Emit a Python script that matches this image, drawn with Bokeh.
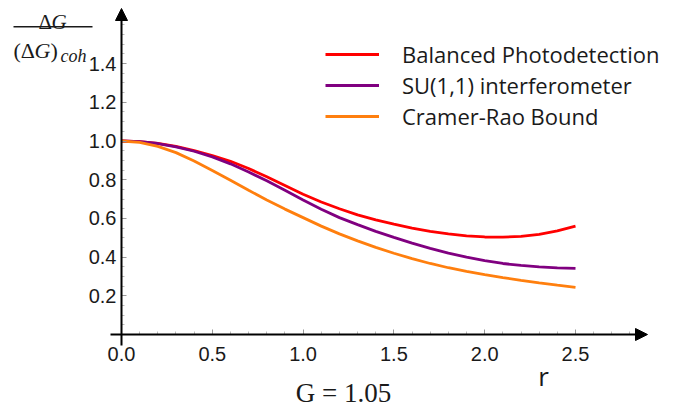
from bokeh.plotting import figure
from bokeh.models import (Range1d, FixedTicker, Legend, LegendItem, Label, Arrow,
                          NormalHead, BoxAnnotation)
from bokeh.embed import file_html
from bokeh.resources import INLINE

# ---------------- data ----------------
r = [0.0, 0.1, 0.2, 0.3, 0.4, 0.5, 0.6, 0.7, 0.8, 0.9, 1.0, 1.1, 1.2, 1.3,
     1.4, 1.5, 1.6, 1.7, 1.8, 1.9, 2.0, 2.1, 2.2, 2.3, 2.4, 2.5]
balanced = [1.000, 0.997, 0.988, 0.972, 0.950, 0.925, 0.895, 0.858, 0.815, 0.770,
            0.725, 0.685, 0.650, 0.618, 0.592, 0.570, 0.550, 0.533, 0.520, 0.510,
            0.504, 0.503, 0.507, 0.517, 0.535, 0.560]
su11 = [1.000, 0.997, 0.987, 0.970, 0.947, 0.918, 0.882, 0.840, 0.794, 0.745,
        0.695, 0.647, 0.604, 0.568, 0.533, 0.502, 0.472, 0.445, 0.421, 0.400,
        0.382, 0.367, 0.357, 0.349, 0.344, 0.342]
cramer_rao = [1.000, 0.993, 0.972, 0.940, 0.897, 0.848, 0.797, 0.745, 0.695, 0.648,
              0.604, 0.560, 0.520, 0.484, 0.450, 0.420, 0.392, 0.367, 0.345, 0.326,
              0.309, 0.294, 0.280, 0.267, 0.255, 0.244]
series_names = ["Balanced Photodetection", "SU(1,1) interferometer", "Cramer-Rao Bound"]
x_ticks = [0.0, 0.5, 1.0, 1.5, 2.0, 2.5]
x_minor = [0.1, 0.2, 0.3, 0.4, 0.6, 0.7, 0.8, 0.9, 1.1, 1.2, 1.3, 1.4, 1.6, 1.7,
           1.8, 1.9, 2.1, 2.2, 2.3, 2.4, 2.6, 2.7, 2.8]
y_ticks = [0.2, 0.4, 0.6, 0.8, 1.0, 1.2, 1.4]
y_minor = [0.05, 0.1, 0.15, 0.25, 0.3, 0.35, 0.45, 0.5, 0.55, 0.65, 0.7, 0.75,
           0.85, 0.9, 0.95, 1.05, 1.1, 1.15, 1.25, 1.3, 1.35, 1.45, 1.5, 1.55, 1.6]
g_text = "G = 1.05"

# ---------------- layout ----------------
W, H = 684, 410
SX, SY = 181.6, 193.5          # px per data unit
OX, OY = 121, 334              # canvas position of the origin
def dx(px):  # canvas x -> data x
    return (px - OX) / SX
def dy(py):  # canvas y -> data y
    return (OY - py) / SY

p = figure(width=W, height=H, output_backend="svg", toolbar_location=None,
           x_range=Range1d(dx(0), dx(W)), y_range=Range1d(dy(H), dy(0)),
           min_border=0, tools="")
p.outline_line_color = None
p.grid.visible = False
p.background_fill_color = "white"

for ax in (p.xaxis[0], p.yaxis[0]):
    ax.fixed_location = 0
    ax.axis_line_color = None
    ax.major_tick_in = 5
    ax.major_tick_out = 0
    ax.minor_tick_in = 3
    ax.minor_tick_out = 0
    ax.major_tick_line_color = "#999999"
    ax.minor_tick_line_color = "#bbbbbb"
    ax.major_label_text_font = "Liberation Sans"
    ax.major_label_text_font_size = "20px"
    ax.major_label_text_color = "#1a1a1a"

p.xaxis[0].ticker = FixedTicker(ticks=x_ticks, minor_ticks=x_minor)
p.yaxis[0].ticker = FixedTicker(ticks=y_ticks, minor_ticks=y_minor)
p.xaxis[0].major_label_standoff = 12
p.yaxis[0].major_label_standoff = 5
p.xaxis[0].major_label_overrides = {v: f"{v:.1f}" for v in x_ticks}
p.yaxis[0].major_label_overrides = {v: f"{v:.1f}" for v in y_ticks}

# axis arrows
p.add_layout(Arrow(end=NormalHead(size=12, fill_color="black", line_color="black"),
                   x_start=dx(110), y_start=0, x_end=dx(647), y_end=0,
                   line_color="black", line_width=2))
p.add_layout(Arrow(end=NormalHead(size=12, fill_color="black", line_color="black"),
                   x_start=0, y_start=dy(345), x_end=0, y_end=dy(8),
                   line_color="black", line_width=2))

colors = ["#ff0000", "#800080", "#ff7f0e"]
renderers = []
for ys, c in zip([balanced, su11, cramer_rao], colors):
    renderers.append(p.line(r, ys, line_color=c, line_width=2.8))

legend = Legend(items=[LegendItem(label=n, renderers=[rr]) for n, rr in zip(series_names, renderers)],
                location=(325, H - 131), orientation="vertical",
                glyph_width=54, glyph_height=30, label_height=30, label_standoff=23,
                spacing=1, padding=0, margin=0, border_line_color=None,
                background_fill_alpha=0,
                label_text_font="Open Sans", label_text_font_size="22px",
                label_text_color="#1a1a1a")
p.add_layout(legend)

# axis labels
p.add_layout(Label(x=dx(543), y=dy(375), text="r", text_align="center",
                   text_baseline="middle", text_font="Open Sans",
                   text_font_size="26px", text_color="#1a1a1a"))
p.add_layout(Label(x=dx(343), y=dy(392), text=g_text, text_align="center",
                   text_baseline="middle", text_font="Liberation Serif",
                   text_font_size="27px", text_color="#1a1a1a"))

serif = "Liberation Serif"
def lab(px, py, t, style="normal", size="22px"):
    p.add_layout(Label(x=dx(px), y=dy(py), text=t, text_align="left",
                       text_baseline="alphabetic", text_font=serif,
                       text_font_style=style, text_font_size=size,
                       text_color="#1a1a1a"))
# numerator  ΔG
lab(38, 21, "Δ", size="21px")
lab(51, 21, "G", "italic", size="21px")
# fraction bar
p.add_layout(BoxAnnotation(left=dx(13), right=dx(92), top=dy(25.5), bottom=dy(27),
                           fill_color="#1a1a1a", fill_alpha=1, line_color=None))
# denominator (ΔG)_coh
lab(13, 50, "(Δ")
lab(34, 50, "G", "italic")
lab(50, 50, ")")
lab(60, 55, "coh", "italic", "18px")

open("out.html", "w").write(file_html(p, INLINE))
